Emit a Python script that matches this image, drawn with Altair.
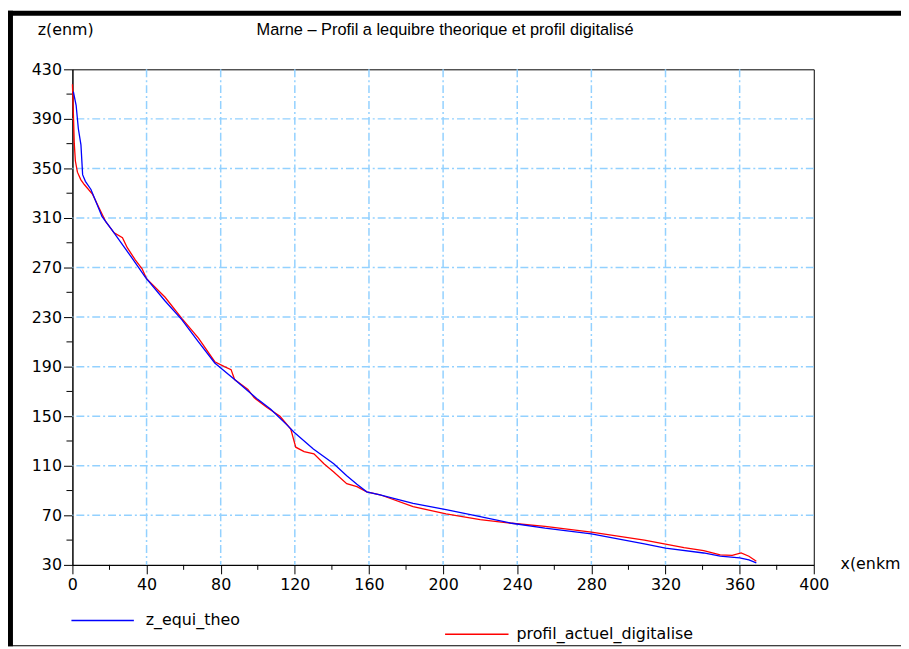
import altair as alt
import pandas as pd

# ---- data ----
theo_x = [0.5, 2, 3.2, 4.6, 5.5, 7, 10, 16, 21.5, 32, 39.4, 50, 59, 68, 76.8, 87.5, 100, 107,
          116, 119.6, 130, 141, 148, 153.5, 158.8, 166, 183.8, 201.6, 220, 237, 255, 280,
          308.6, 320, 340.6, 349.5, 360, 365, 369]
theo_z = [412, 401, 382, 369, 345, 339.6, 333, 311, 300, 278, 262, 243, 228, 210, 193, 179.6,
          163.6, 155.6, 142.6, 137, 123.6, 111.6, 102, 95, 89, 86.6, 79.6, 74.6, 69, 63.6,
          59.6, 55, 47, 43.6, 39.6, 37, 35.6, 34, 31.6]

dig_x = [0, 0.5, 1, 1.6, 2.7, 4.5, 6.4, 10.9, 14.4, 18, 22.5, 27, 29.6, 34, 37.6, 40, 50, 59,
         68, 76.8, 82, 85.6, 87.5, 94.7, 98, 105, 112, 117.8, 120.5, 125, 130.3, 135.7, 141,
         148, 153.5, 158.8, 166, 183.8, 201.6, 220, 237, 255, 280, 308.6, 320, 330, 340.6,
         349.5, 356, 360.8, 365, 369]
dig_z = [418, 395, 370, 356, 347, 341, 337, 329, 318, 307, 298, 294, 286, 276, 269, 261, 246,
         229, 213, 194, 190, 187.6, 179.6, 171.6, 165, 157, 150, 139.6, 125, 121.5, 119.6,
         111.6, 105, 95.6, 93.2, 89, 86.6, 77, 71.2, 66.5, 63.6, 61, 56.5, 50, 46.8, 44, 41.6,
         38, 37.6, 39.6, 37, 33]

series_names = ["z_equi_theo", "profil_actuel_digitalise"]
series_colors = ["#0000ff", "#ff0000"]

x_major = list(range(0, 401, 40))
x_minor = list(range(20, 400, 40))
y_major = list(range(30, 431, 40))
y_minor = list(range(50, 430, 40))
x_grid = list(range(40, 400, 40))
y_grid = list(range(70, 430, 40))

title_text = "Marne – Profil a lequibre theorique et profil digitalisé"
y_title = "z(enm)"
x_title = "x(enkm"

FONT = "DejaVu Sans"
TFONT = "Liberation Sans"
W, H = 748, 500
GRID_COLOR = "#93d1ff"

df = pd.concat([
    pd.DataFrame({"x": dig_x, "z": dig_z, "s": series_names[1], "o": range(len(dig_x))}),
    pd.DataFrame({"x": theo_x, "z": theo_z, "s": series_names[0], "o": range(len(theo_x))}),
])

xs = alt.Scale(domain=[0, 400], nice=False, zero=False)
ys = alt.Scale(domain=[30, 430], nice=False, zero=False)
x_axis = alt.Axis(values=x_major, format="d", title=None, grid=False, tickSize=9,
                  labelPadding=3, labelFlush=False, labelFont=FONT, labelFontSize=16,
                  labelColor="black", tickColor="black", domainColor="black")
y_axis = alt.Axis(values=y_major, format="d", title=None, grid=False, tickSize=9,
                  labelPadding=2, labelFlush=False, labelFont=FONT, labelFontSize=16,
                  labelColor="black", tickColor="black", domainColor="black")
one = pd.DataFrame({"a": [0]})

frame_left = alt.Chart(one).mark_rect(color="black").encode(
    x=alt.value(-65), x2=alt.value(-60), y=alt.value(-59), y2=alt.value(582))
frame_top = alt.Chart(one).mark_rect(color="black").encode(
    x=alt.value(-65), x2=alt.value(840), y=alt.value(-59), y2=alt.value(-54))
frame_bottom = alt.Chart(one).mark_rect(color="black").encode(
    x=alt.value(-65), x2=alt.value(840), y=alt.value(581), y2=alt.value(582))

xgrid = alt.Chart(pd.DataFrame({"v": x_grid})).mark_rule(
    color=GRID_COLOR, strokeWidth=1.5, strokeDash=[8, 3, 2, 3]).encode(
    x=alt.X("v:Q", scale=xs, axis=x_axis))
ygrid = alt.Chart(pd.DataFrame({"v": y_grid})).mark_rule(
    color=GRID_COLOR, strokeWidth=1.5, strokeDash=[8, 3, 2, 3]).encode(
    y=alt.Y("v:Q", scale=ys, axis=y_axis))

xminor = alt.Chart(pd.DataFrame({"v": x_minor})).mark_rule(color="black").encode(
    x=alt.X("v:Q", scale=xs, axis=x_axis), y=alt.value(H), y2=alt.value(H + 5))
yminor = alt.Chart(pd.DataFrame({"v": y_minor})).mark_rule(color="black").encode(
    y=alt.Y("v:Q", scale=ys, axis=y_axis), x=alt.value(-6), x2=alt.value(0))

lines = alt.Chart(df).mark_line(strokeWidth=1.3).encode(
    x=alt.X("x:Q", scale=xs, axis=x_axis),
    y=alt.Y("z:Q", scale=ys, axis=y_axis),
    color=alt.Color("s:N", scale=alt.Scale(domain=series_names, range=series_colors),
                    legend=None),
    order="o:Q",
    detail="s:N",
)

def txt(t, x, y, size=16, align="left", font=FONT):
    return alt.Chart(one).mark_text(
        text=t, font=font, fontSize=size, align=align, baseline="middle",
        color="black").encode(x=alt.value(x), y=alt.value(y))

title = txt(title_text, 376, -40, 16.5, "center", TFONT)
ytitle = txt(y_title, -35, -40)
xtitle = txt(x_title, 775, 499)

leg1_line = alt.Chart(one).mark_rule(color=series_colors[0], strokeWidth=1.5).encode(
    x=alt.value(-1), x2=alt.value(62), y=alt.value(556))
leg1_txt = txt(series_names[0], 74, 556)
leg2_line = alt.Chart(one).mark_rule(color=series_colors[1], strokeWidth=1.5).encode(
    x=alt.value(376), x2=alt.value(440), y=alt.value(570))
leg2_txt = txt(series_names[1], 448, 570)

chart = alt.layer(
    frame_left, frame_top, frame_bottom, xgrid, ygrid, xminor, yminor, lines,
    title, ytitle, xtitle, leg1_line, leg1_txt, leg2_line, leg2_txt,
).properties(
    width=W, height=H, autosize="none",
    padding={"left": 65, "top": 59, "right": 88, "bottom": 82},
    background="white",
).configure_view(stroke="black", strokeWidth=1)

chart.save("out.html", embed_options={"renderer": "svg", "actions": False})
